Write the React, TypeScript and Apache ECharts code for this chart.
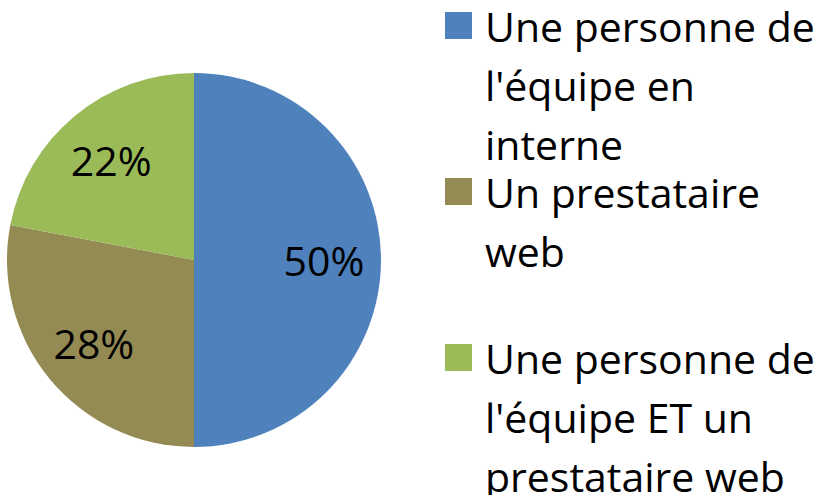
import React, { useEffect, useRef } from "react";
import * as echarts from "echarts";

const categories = [
  "Une personne de l'équipe en interne",
  "Un prestataire web",
  "Une personne de l'équipe ET un prestataire web",
];
const values = [50, 28, 22];
const colors = ["#4F81BD", "#948A54", "#9BBB59"];
const legendLines = [
  ["Une personne de", "l'équipe en", "interne"],
  ["Un prestataire", "web"],
  ["Une personne de", "l'équipe ET un", "prestataire web"],
];
const legendIconTops = [12, 178, 344];

const FONT = "'Open Sans', sans-serif";
const LINE = 59;
const ICON = 27;

export default function App() {
  const ref = useRef<HTMLDivElement>(null);
  useEffect(() => {
    document.body.style.margin = "0";
    if (!ref.current) return;
    const chart = echarts.init(ref.current, null, { renderer: "svg" });
    const data = categories.map((name, i) => ({
      name,
      value: values[i],
      itemStyle: { color: colors[i] },
    }));
    const legends = categories.map((name, i) => ({
      left: 440,
      top: legendIconTops[i] + ICON / 2 - LINE / 2,
      padding: 0,
      orient: "vertical",
      icon: "none",
      itemWidth: 0,
      itemHeight: 0,
      selectedMode: false,
      data: [{ name }],
      formatter: () =>
        legendLines[i]
          .map((l, k) => (k === 0 ? "{sq|}{gap|}{t|" + l + "}" : "{ind|}{t|" + l + "}"))
          .join("\n"),
      textStyle: {
        fontFamily: FONT,
        fontSize: 41,
        color: "#000",
        lineHeight: LINE,
        rich: {
          sq: { width: ICON, height: ICON, backgroundColor: colors[i] },
          gap: { width: 13, height: ICON },
          ind: { width: ICON + 13, height: ICON },
          t: { fontFamily: FONT, fontSize: 41, color: "#000", lineHeight: LINE },
        },
      },
    }));
    chart.setOption({
      animation: false,
      backgroundColor: "#fff",
      legend: legends,
      series: [
        {
          type: "pie",
          center: [194, 260],
          radius: [0, 187],
          startAngle: 90,
          clockwise: true,
          silent: true,
          label: { show: false },
          labelLine: { show: false },
          itemStyle: { borderWidth: 0 },
          data,
        },
        {
          type: "pie",
          center: [194, 260],
          radius: [0, 254],
          startAngle: 90,
          clockwise: true,
          silent: true,
          legendHoverLink: false,
          itemStyle: { color: "transparent", borderWidth: 0 },
          label: {
            show: true,
            position: "inside",
            formatter: "{c}%",
            fontFamily: FONT,
            fontSize: 41,
            color: "#000",
          },
          labelLine: { show: false },
          data: categories.map((name, i) => ({ name, value: values[i] })),
        },
      ],
    });
    return () => chart.dispose();
  }, []);
  return <div ref={ref} style={{ width: 823, height: 495 }} />;
}
